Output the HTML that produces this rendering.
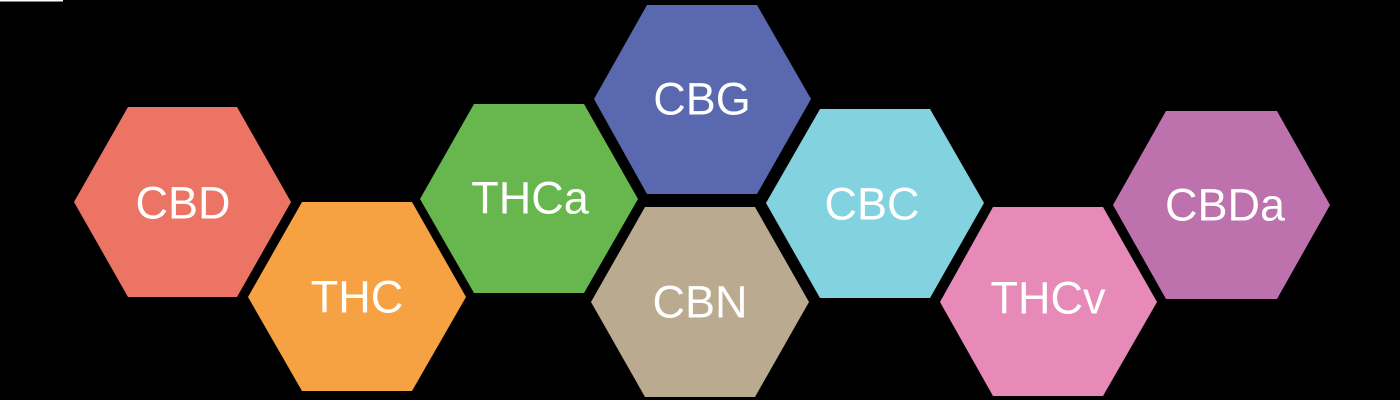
<!DOCTYPE html>
<html><head><style>
html,body{margin:0;padding:0;background:#000;}
svg{display:block;}
text{font-family:"Liberation Sans",sans-serif;font-size:45px;fill:#fff;text-anchor:middle;dominant-baseline:central;}
</style></head><body>
<svg width="1400" height="400" viewBox="0 0 1400 400" xmlns="http://www.w3.org/2000/svg">
<rect width="1400" height="400" fill="#000"/>
<rect x="0" y="0" width="63" height="1.5" fill="#fff"/>
<polygon points="74,202 128,107 237,107 291,202 237,297 128,297" fill="#EC7465"/>
<text x="183" y="203">CBD</text>
<polygon points="248,297 302,202 412,202 466,297 412,391 302,391" fill="#F7A242"/>
<text x="357" y="297">THC</text>
<polygon points="420,199 474,104 584,104 638,199 584,293 474,293" fill="#67B74E"/>
<text x="530" y="198">THCa</text>
<polygon points="594,99 647,5 757,5 811,99 757,194 647,194" fill="#5A68AF"/>
<text x="702" y="99">CBG</text>
<polygon points="591,302 645,207 755,207 809,302 755,397 645,397" fill="#BAAA8F"/>
<text x="700" y="302">CBN</text>
<polygon points="766,203 820,109 930,109 984,203 930,298 820,298" fill="#82D2DF"/>
<text x="872" y="204">CBC</text>
<polygon points="940,302 993,207 1103,207 1157,302 1103,396 993,396" fill="#E78AB8"/>
<text x="1048" y="298">THCv</text>
<polygon points="1113,205 1166,111 1277,111 1330,205 1277,299 1166,299" fill="#BD72AE"/>
<text x="1225" y="205">CBDa</text>
</svg>
</body></html>
